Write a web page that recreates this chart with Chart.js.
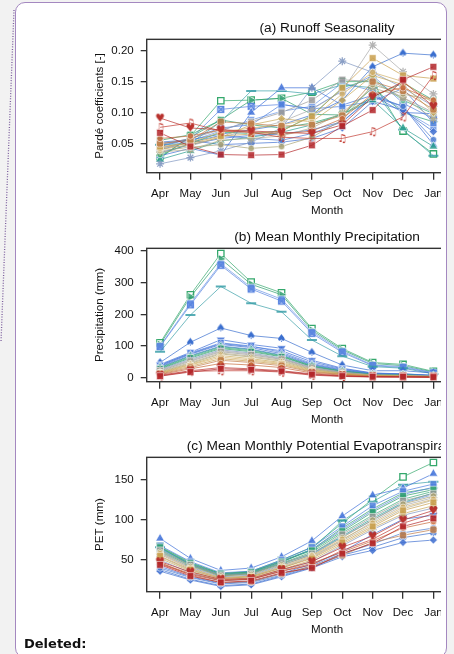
<!DOCTYPE html>
<html>
<head>
<meta charset="utf-8">
<script src="https://cdn.jsdelivr.net/npm/chart.js@4.4.1/dist/chart.umd.min.js"></script>
<style>
  html, body { margin: 0; padding: 0; width: 454px; height: 654px; overflow: hidden; background: #f2f2f2; }
  #balloon { position: absolute; left: 15px; top: 2px; width: 432px; height: 656px; box-sizing: border-box;
             border: 1.6px solid #a488c0; border-radius: 10px; background: #fff; }
  #connector { position: absolute; left: 0; top: 0; }
  #plots { position: absolute; left: 0; top: 0; width: 441px; height: 654px; overflow: hidden; }
  #plots canvas { position: absolute; left: 0; }
  #deleted { position: absolute; left: 24px; top: 636px; font: bold 13px "DejaVu Sans", Verdana, sans-serif; color: #111; }
</style>
</head>
<body>
<svg id="connector" width="20" height="360">
  <line x1="14" y1="10" x2="1" y2="342" stroke="#7d5f9e" stroke-width="1.3" stroke-dasharray="1,1.6"/>
</svg>
<div id="balloon"></div>
<div id="plots">
  <canvas id="runoff" width="560" height="222" style="top:0px"></canvas>
  <canvas id="precip" width="560" height="222" style="top:210px"></canvas>
  <canvas id="pet" width="560" height="222" style="top:420px"></canvas>
</div>
<div id="deleted">Deleted:</div>

<script>
// hydrological year, April to March
const months = ["Apr", "May", "Jun", "Jul", "Aug", "Sep", "Oct", "Nov", "Dec", "Jan", "Feb", "Mar"];

// Pardé coefficients per catchment, Apr..Jan
const pardeCoef = [
  [0.067, 0.045, 0.032, 0.031, 0.032, 0.047, 0.078, 0.104, 0.153, 0.174],
  [0.076, 0.083, 0.070, 0.068, 0.060, 0.058, 0.058, 0.069, 0.093, 0.160],
  [0.091, 0.075, 0.072, 0.070, 0.068, 0.066, 0.080, 0.125, 0.150, 0.110],
  [0.058, 0.062, 0.072, 0.068, 0.065, 0.070, 0.090, 0.130, 0.140, 0.120],
  [0.050, 0.055, 0.085, 0.082, 0.078, 0.080, 0.095, 0.150, 0.135, 0.105],
  [0.045, 0.050, 0.062, 0.065, 0.070, 0.094, 0.140, 0.188, 0.160, 0.155],
  [0.042, 0.052, 0.068, 0.075, 0.080, 0.090, 0.130, 0.165, 0.150, 0.115],
  [0.040, 0.048, 0.060, 0.080, 0.090, 0.085, 0.120, 0.160, 0.145, 0.100],
  [0.038, 0.044, 0.048, 0.042, 0.045, 0.060, 0.088, 0.145, 0.130, 0.120],
  [0.036, 0.040, 0.055, 0.058, 0.062, 0.075, 0.100, 0.140, 0.125, 0.090],
  [0.048, 0.058, 0.072, 0.085, 0.100, 0.120, 0.153, 0.150, 0.124, 0.100],
  [0.044, 0.046, 0.060, 0.072, 0.085, 0.105, 0.135, 0.209, 0.166, 0.130],
  [0.017, 0.027, 0.038, 0.052, 0.075, 0.140, 0.183, 0.165, 0.140, 0.110],
  [0.055, 0.064, 0.088, 0.080, 0.075, 0.083, 0.097, 0.125, 0.148, 0.120],
  [0.032, 0.050, 0.068, 0.066, 0.070, 0.095, 0.140, 0.155, 0.120, 0.098],
  [0.024, 0.038, 0.054, 0.060, 0.068, 0.080, 0.097, 0.120, 0.075, 0.045],
  [0.040, 0.052, 0.063, 0.058, 0.055, 0.066, 0.085, 0.125, 0.110, 0.056],
  [0.050, 0.055, 0.048, 0.050, 0.052, 0.058, 0.075, 0.118, 0.104, 0.069],
  [0.046, 0.058, 0.075, 0.080, 0.113, 0.106, 0.110, 0.118, 0.139, 0.083],
  [0.035, 0.048, 0.058, 0.063, 0.065, 0.072, 0.085, 0.128, 0.100, 0.098],
  [0.052, 0.056, 0.065, 0.072, 0.080, 0.096, 0.120, 0.174, 0.196, 0.193],
  [0.030, 0.042, 0.031, 0.100, 0.140, 0.140, 0.112, 0.128, 0.110, 0.048],
  [0.048, 0.050, 0.085, 0.135, 0.135, 0.130, 0.145, 0.140, 0.072, 0.030],
  [0.045, 0.057, 0.105, 0.110, 0.113, 0.106, 0.135, 0.160, 0.115, 0.090],
  [0.042, 0.054, 0.070, 0.088, 0.102, 0.110, 0.148, 0.135, 0.104, 0.075],
  [0.028, 0.060, 0.088, 0.120, 0.123, 0.097, 0.096, 0.140, 0.100, 0.085],
  [0.026, 0.062, 0.119, 0.120, 0.123, 0.133, 0.150, 0.150, 0.070, 0.033]
];

// mean monthly precipitation (mm), Apr..Jan
const precipMm = [
  [5, 18, 28, 25, 20, 10, 5, 3, 3, 2],
  [6, 20, 22, 22, 18, 8, 4, 2, 2, 1],
  [8, 22, 32, 28, 22, 12, 6, 3, 2, 2],
  [10, 28, 45, 40, 32, 15, 8, 4, 3, 2],
  [12, 32, 55, 48, 38, 18, 10, 5, 4, 3],
  [14, 36, 60, 52, 42, 20, 11, 6, 5, 3],
  [15, 40, 65, 56, 45, 22, 12, 6, 5, 3],
  [16, 42, 70, 60, 48, 24, 13, 7, 5, 3],
  [18, 45, 75, 65, 52, 26, 14, 7, 6, 4],
  [20, 48, 78, 68, 55, 28, 15, 8, 6, 4],
  [22, 52, 82, 72, 58, 30, 16, 8, 7, 4],
  [24, 55, 85, 75, 60, 32, 17, 9, 7, 5],
  [26, 58, 88, 78, 62, 33, 18, 9, 8, 5],
  [28, 62, 92, 82, 66, 35, 19, 10, 8, 5],
  [30, 65, 95, 85, 68, 36, 20, 10, 9, 5],
  [32, 68, 98, 88, 70, 38, 21, 11, 9, 6],
  [34, 70, 100, 90, 72, 40, 22, 12, 10, 6],
  [36, 74, 105, 95, 76, 42, 24, 12, 10, 6],
  [38, 78, 110, 100, 80, 45, 26, 13, 11, 7],
  [42, 80, 120, 105, 93, 55, 30, 15, 12, 8],
  [48, 112, 157, 133, 124, 80, 40, 22, 22, 15],
  [40, 76, 108, 98, 85, 50, 28, 14, 12, 7],
  [82, 198, 288, 235, 208, 119, 68, 35, 30, 12],
  [98, 230, 355, 280, 242, 140, 80, 38, 32, 15],
  [100, 235, 360, 285, 248, 145, 84, 40, 35, 16],
  [105, 255, 375, 295, 262, 150, 88, 45, 38, 18],
  [110, 262, 392, 302, 268, 155, 92, 48, 42, 20]
];

// mean monthly potential evapotranspiration (mm), Apr..Jan
const petMm = [
  [44, 30, 22, 24, 34, 40, 58, 71, 92, 102],
  [45, 32, 24, 26, 36, 44, 62, 76, 96, 108],
  [48, 35, 26, 27, 38, 48, 66, 80, 100, 112],
  [46, 33, 25, 26, 36, 46, 60, 74, 90, 98],
  [47, 31, 22, 23, 33, 42, 56, 72, 81, 88],
  [55, 38, 27, 29, 40, 52, 72, 92, 112, 122],
  [58, 40, 28, 30, 42, 55, 76, 96, 116, 126],
  [52, 36, 25, 28, 38, 50, 70, 90, 108, 118],
  [60, 42, 30, 32, 44, 56, 78, 100, 120, 130],
  [54, 37, 27, 29, 40, 53, 74, 94, 114, 125],
  [62, 44, 31, 33, 46, 58, 82, 104, 124, 133],
  [57, 39, 28, 30, 41, 54, 75, 98, 118, 128],
  [50, 34, 24, 26, 37, 48, 68, 88, 106, 115],
  [66, 46, 33, 35, 48, 62, 86, 110, 130, 138],
  [63, 44, 31, 34, 46, 60, 84, 106, 126, 136],
  [61, 43, 30, 33, 45, 58, 80, 102, 122, 134],
  [40, 28, 20, 22, 31, 43, 58, 70, 84, 90],
  [36, 25, 17, 19, 29, 40, 54, 62, 72, 75],
  [68, 48, 34, 36, 50, 66, 92, 118, 136, 145],
  [42, 29, 21, 23, 33, 45, 60, 82, 101, 106],
  [38, 26, 18, 20, 30, 41, 56, 66, 78, 84],
  [77, 52, 37, 40, 54, 74, 105, 131, 140, 158],
  [66, 44, 31, 33, 47, 64, 99, 123, 144, 148],
  [64, 45, 32, 34, 48, 63, 88, 112, 132, 141],
  [59, 41, 29, 31, 43, 57, 79, 100, 121, 132],
  [65, 45, 32, 35, 49, 63, 90, 114, 134, 140],
  [67, 47, 33, 36, 50, 66, 96, 126, 154, 172]
];

const seriesColors = [
  "#b3262a", "#c23b32", "#b8322e", "#c8693a", "#c07c48",
  "#c9a04f", "#d2b06a", "#c8a85a", "#a9a274", "#b3ab8a",
  "#999999", "#aaaaaa", "#7f95c0", "#2ca06a", "#3aaa78",
  "#2a9d8f", "#4a7bd0", "#3f6fd0", "#4f80dd", "#3d6fd6",
  "#3b6fcf", "#3e70d8", "#3a9fa8", "#5a85e0", "#6a95e5",
  "#2e9e6e", "#34a86c"
];
const markerShapes = [
  "rect", "music", "heart", "circle", "rectRounded",
  "rect", "circle", "rectRot", "circle", "star",
  "rect", "star", "star", "rect", "circle",
  "triangle", "circle", "rectRot", "rect", "triangleDown",
  "spade", "triangle", "line", "boxX", "rect",
  "triangleRight", "openRect"
];

const FONT = '"Liberation Sans", Arial, Helvetica, sans-serif';

function withAlpha(hex, a) {
  const n = parseInt(hex.slice(1), 16);
  return `rgba(${n >> 16}, ${(n >> 8) & 255}, ${n & 255}, ${a})`;
}

// small canvas with a text symbol, used as point style
function glyph(ch, color, px) {
  const c = document.createElement("canvas");
  c.width = c.height = px + 2;
  const g = c.getContext("2d");
  g.fillStyle = color;
  g.font = px + 'px "DejaVu Sans"';
  g.textAlign = "center";
  g.textBaseline = "middle";
  g.fillText(ch, c.width / 2, c.height / 2 + 0.5);
  return c;
}

// square with a cross inside
function boxCross(color) {
  const c = document.createElement("canvas");
  c.width = c.height = 9;
  const g = c.getContext("2d");
  g.fillStyle = withAlpha(color, 0.35);
  g.fillRect(1, 1, 7, 7);
  g.strokeStyle = color;
  g.lineWidth = 1.2;
  g.strokeRect(1.5, 1.5, 6, 6);
  g.beginPath();
  g.moveTo(1.5, 1.5); g.lineTo(7.5, 7.5);
  g.moveTo(7.5, 1.5); g.lineTo(1.5, 7.5);
  g.stroke();
  return c;
}

function markerOpts(shape, color) {
  const fill = withAlpha(color, 0.85);
  const edge = "rgba(255, 255, 255, 0.55)";
  const base = { pointBackgroundColor: fill, pointBorderColor: edge, pointBorderWidth: 1, pointRotation: 0 };
  switch (shape) {
    case "rect": return { ...base, pointStyle: "rect", pointRadius: 4.8 };
    case "rectRounded": return { ...base, pointStyle: "rectRounded", pointRadius: 4.2 };
    case "circle": return { ...base, pointStyle: "circle", pointRadius: 3.2 };
    case "rectRot": return { ...base, pointStyle: "rectRot", pointRadius: 4 };
    case "star": return { ...base, pointBorderColor: fill, pointStyle: "star", pointRadius: 4, pointBorderWidth: 1.3 };
    case "triangle": return { ...base, pointStyle: "triangle", pointRadius: 5 };
    case "triangleDown": return { ...base, pointStyle: "triangle", pointRadius: 5, pointRotation: 180 };
    case "triangleRight": return { ...base, pointStyle: "triangle", pointRadius: 5, pointRotation: 90 };
    case "line": return { ...base, pointBorderColor: fill, pointStyle: "line", pointRadius: 5, pointBorderWidth: 2 };
    case "openRect": return { ...base, pointBackgroundColor: "#fff", pointBorderColor: color, pointStyle: "rect", pointRadius: 4.5, pointBorderWidth: 1.3 };
    case "heart": return { ...base, pointStyle: glyph("\u2665", color, 11) };
    case "music": return { ...base, pointStyle: glyph("\u266B", color, 11) };
    case "spade": return { ...base, pointStyle: glyph("\u2660", color, 11) };
    case "boxX": return { ...base, pointStyle: boxCross(color) };
  }
}

// R-style box around the plotting region
const framePlugin = {
  id: "frame",
  afterDatasetsDraw(chart) {
    const { ctx, chartArea: a } = chart;
    ctx.save();
    ctx.strokeStyle = "#333";
    ctx.lineWidth = 1.4;
    ctx.strokeRect(a.left, a.top, a.right - a.left, a.bottom - a.top);
    ctx.restore();
  }
};

function makePanel(id, title, yTitle, table, yMin, yMax, yTicks, fmt, frameTop, padBottom) {
  const datasets = table.map((row, i) => ({
    data: row.map((v, k) => ({ x: k + 1, y: v })),
    borderColor: withAlpha(seriesColors[i], 0.7),
    borderWidth: 1,
    tension: 0,
    ...markerOpts(markerShapes[i], seriesColors[i])
  }));

  return new Chart(document.getElementById(id), {
    type: "line",
    data: { datasets },
    options: {
      responsive: false,
      animation: false,
      events: [],
      layout: { padding: { left: 93, right: 52.5, top: 0, bottom: padBottom } },
      plugins: {
        legend: { display: false },
        tooltip: { enabled: false },
        title: {
          display: true,
          text: title,
          fullSize: false,
          color: "#111",
          font: { family: FONT, size: 13.7, weight: "normal" },
          padding: { top: frameTop - 19.2, bottom: 2.8 }
        }
      },
      scales: {
        x: {
          type: "linear",
          min: 0.56,
          max: 12.44,
          afterBuildTicks: (s) => { s.ticks = months.map((m, k) => ({ value: k + 1 })); },
          afterFit: (s) => { s.height = 45.2; },
          ticks: {
            callback: (v) => months[v - 1],
            autoSkip: false,
            maxRotation: 0,
            padding: 7.4,
            color: "#111",
            font: { family: FONT, size: 11.5 }
          },
          grid: { drawOnChartArea: false, tickLength: 7, color: "#333", lineWidth: 1.3 },
          border: { display: false },
          title: { display: true, text: "Month", color: "#111", padding: 0, font: { family: FONT, size: 11.6 } }
        },
        y: {
          min: yMin,
          max: yMax,
          afterBuildTicks: (s) => { s.ticks = yTicks.map((v) => ({ value: v })); },
          afterFit: (s) => { s.width = 53.7; },
          ticks: { callback: fmt, padding: 7, color: "#111", font: { family: FONT, size: 11.5 } },
          grid: { drawOnChartArea: false, tickLength: 6, color: "#333", lineWidth: 1.3 },
          border: { display: false },
          title: { display: true, text: yTitle, color: "#111", padding: 0, font: { family: FONT, size: 11.6 } }
        }
      }
    },
    plugins: [framePlugin]
  });
}

makePanel("runoff", "(a) Runoff Seasonality", "Pardé coefficients [-]", pardeCoef,
  0.0026, 0.2184, [0.05, 0.10, 0.15, 0.20], (v) => v.toFixed(2), 39.3, 4.1);
makePanel("precip", "(b) Mean Monthly Precipitation", "Precipitation (mm)", precipMm,
  -12.6, 408.5, [0, 100, 200, 300, 400], (v) => String(v), 38.3, 5.1);
makePanel("pet", "(c) Mean Monthly Potential Evapotranspiration", "PET (mm)", petMm,
  10.4, 178.4, [50, 100, 150], (v) => String(v), 37.3, 5.1);
</script>
</body>
</html>
